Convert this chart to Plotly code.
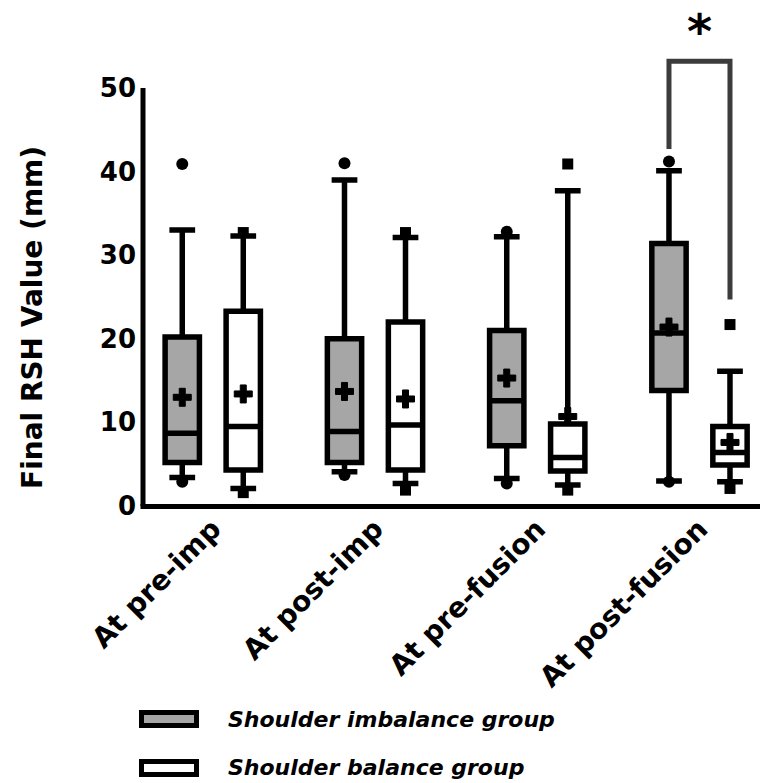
import plotly.graph_objects as go

categories = ["At pre-imp", "At post-imp", "At pre-fusion", "At post-fusion"]

# Shoulder imbalance group
imb_q1 = [5.2, 5.2, 7.2, 13.8]
imb_median = [8.7, 8.9, 12.6, 20.7]
imb_q3 = [20.2, 20.0, 21.0, 31.4]
imb_low = [3.4, 4.1, 3.3, 3.0]
imb_high = [33.0, 39.0, 32.2, 40.1]
imb_mean = [13.0, 13.7, 15.3, 21.4]
imb_pt_high = [40.9, 41.0, 32.8, 41.2]
imb_pt_low = [2.9, 3.7, 2.7, 2.9]

# Shoulder balance group
bal_q1 = [4.3, 4.3, 4.2, 4.9]
bal_median = [9.5, 9.7, 5.8, 6.4]
bal_q3 = [23.3, 22.0, 9.8, 9.5]
bal_low = [2.1, 2.7, 2.5, 2.9]
bal_high = [32.3, 32.1, 37.7, 16.1]
bal_mean = [13.4, 12.8, 10.7, 7.6]
bal_pt_high = [32.7, 32.7, 40.9, 21.7]
bal_pt_low = [1.6, 1.9, 1.9, 2.1]

y_ticks = [0, 10, 20, 30, 40, 50]

# significance bracket (post-fusion)
sig_cat = 3
sig_left_bottom = 42.7
sig_top = 53.2
sig_right_bottom = 24.7
sig_star_y = 56.8

FONT = "DejaVu Sans"
GRAY = "#a6a6a6"
OFF = 0.188
BOXW = 0.2115
LW = 5.5

W, H = 760, 783
ML, MR, MT, MB = 143, 0, 21, 277
PW, PH = W - ML - MR, H - MT - MB


def px(xp):
    return (xp - ML) / PW


def py(yp):
    return (H - MB - yp) / PH


xi = list(range(len(categories)))
x_imb = [i - OFF for i in xi]
x_bal = [i + OFF for i in xi]

fig = go.Figure()

fig.add_trace(go.Box(
    x=x_imb, q1=imb_q1, median=imb_median, q3=imb_q3,
    lowerfence=imb_low, upperfence=imb_high,
    width=BOXW, whiskerwidth=0.75, fillcolor=GRAY,
    line=dict(color="black", width=LW), boxpoints=False,
    name="Shoulder imbalance group", showlegend=False))
fig.add_trace(go.Box(
    x=x_bal, q1=bal_q1, median=bal_median, q3=bal_q3,
    lowerfence=bal_low, upperfence=bal_high,
    width=BOXW, whiskerwidth=0.75, fillcolor="white",
    line=dict(color="black", width=LW), boxpoints=False,
    name="Shoulder balance group", showlegend=False))

# extreme points
fig.add_trace(go.Scatter(
    x=x_imb + x_imb, y=imb_pt_high + imb_pt_low, mode="markers",
    marker=dict(symbol="circle", size=12, color="black"),
    showlegend=False, cliponaxis=False))
fig.add_trace(go.Scatter(
    x=x_bal + x_bal, y=bal_pt_high + bal_pt_low, mode="markers",
    marker=dict(symbol="square", size=11, color="black"),
    showlegend=False, cliponaxis=False))

# means
fig.add_trace(go.Scatter(
    x=x_imb + x_bal, y=imb_mean + bal_mean, mode="markers",
    marker=dict(symbol="cross", size=15, color="black",
                line=dict(color="black", width=1)),
    showlegend=False, cliponaxis=False))

# significance bracket
fig.add_trace(go.Scatter(
    x=[sig_cat - OFF, sig_cat - OFF, sig_cat + OFF, sig_cat + OFF],
    y=[sig_left_bottom, sig_top, sig_top, sig_right_bottom],
    mode="lines", line=dict(color="#3c3c3c", width=5),
    showlegend=False, cliponaxis=False, hoverinfo="skip"))

fig.add_annotation(x=sig_cat, y=sig_star_y, text="<b>*</b>", showarrow=False,
                   font=dict(family=FONT, size=48, color="black"),
                   xanchor="center", yanchor="middle")

# axis lines
fig.add_shape(type="line", xref="paper", yref="paper", x0=px(140.5), x1=1,
              y0=py(506.5), y1=py(506.5), line=dict(color="black", width=5))
fig.add_shape(type="line", xref="paper", yref="y", x0=px(143), x1=px(143),
              y0=0, y1=50, line=dict(color="black", width=5))

# y title
fig.add_annotation(xref="paper", yref="paper", x=px(32.5), y=py(317.5),
                   text="<b>Final RSH Value (mm)</b>", textangle=-90,
                   showarrow=False, xanchor="center", yanchor="middle",
                   font=dict(family=FONT, size=28, color="black"))

# legend
legend_items = [("Shoulder imbalance group", GRAY, 719),
                ("Shoulder balance group", "white", 768)]
for label, fill, yc in legend_items:
    fig.add_shape(type="rect", xref="paper", yref="paper",
                  x0=px(141.5), x1=px(196.5), y0=py(yc - 6.5), y1=py(yc + 6.5),
                  line=dict(color="black", width=5), fillcolor=fill)
    fig.add_annotation(xref="paper", yref="paper", x=px(226), y=py(yc),
                       text="<b><i>" + label + "</i></b>", showarrow=False,
                       xanchor="left", yanchor="middle",
                       font=dict(family=FONT, size=22, color="black"))

fig.update_layout(
    width=W, height=H,
    margin=dict(l=ML, r=MR, t=MT, b=MB),
    paper_bgcolor="white", plot_bgcolor="white",
    showlegend=False,
    xaxis=dict(range=[-0.43, 3.373], tickvals=xi, ticktext=categories,
               tickangle=-45, showgrid=False, zeroline=False, showline=False,
               ticks="", tickfont=dict(family=FONT, size=28, color="black",
                                       weight="bold")),
    yaxis=dict(range=[0, 58], tickvals=y_ticks, showgrid=False,
               zeroline=False, showline=False, ticks="", ticklabelstandoff=6,
               tickfont=dict(family=FONT, size=26, color="black",
                             weight="bold")),
)

fig.write_html("out.html",
               config={"displayModeBar": False, "staticPlot": True},
               post_script="document.body.style.margin='0px';"
                           "document.body.style.padding='0px';")
